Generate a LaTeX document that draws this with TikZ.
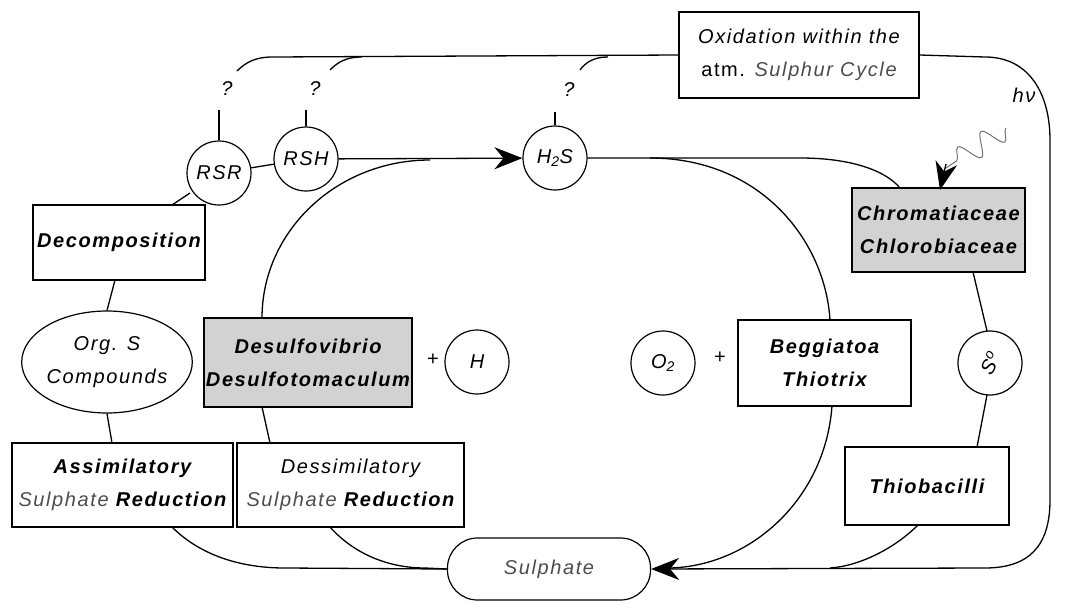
\documentclass[tikz,border=0pt]{standalone}
\usepackage{fontspec}
\setmainfont{Liberation Sans}[LetterSpace=8]
\usetikzlibrary{arrows.meta,decorations.pathmorphing,shapes.geometric}
\begin{document}
\begin{tikzpicture}[x=1pt,y=-1pt,
  every node/.style={font=\fontsize{20}{33}\selectfont\itshape},
  box/.style={draw, line width=1.5pt, inner sep=0pt, align=center},
  shaded/.style={box, fill=gray!35},
  circ/.style={draw, circle, line width=1.2pt, minimum size=64pt, inner sep=0pt},
  conn/.style={line width=1.3pt},
  tip/.style={-{Stealth[length=28pt,width=22pt,inset=9pt]}},
  bold/.style={font=\fontsize{20}{33}\selectfont\itshape\bfseries}
]
\useasboundingbox (0,0) rectangle (1066,603);
% boxes
\node[box, minimum width=240pt, minimum height=86pt] (ox) at (799,55) {Oxidation within the\\{\upshape atm.} {\color{black!70}Sulphur Cycle}};
\node[box, bold, minimum width=172pt, minimum height=75pt] (dec) at (119,242.5) {Decomposition};
\node[draw, ellipse, line width=1.2pt, minimum width=162pt, minimum height=102pt, inner sep=0pt, align=center] (orgs) at (107,362) {Org. S\\Compounds};
\node[shaded, bold, minimum width=208pt, minimum height=89pt] (desulf) at (308,362.5) {Desulfovibrio\\Desulfotomaculum};
\node[box, minimum width=221pt, minimum height=84pt] (assim) at (122.5,485) {{\bfseries Assimilatory}\\{\color{black!70}Sulphate} {\bfseries Reduction}};
\node[box, minimum width=227pt, minimum height=84pt] (dessim) at (350.5,485) {Dessimilatory\\{\color{black!70}Sulphate} {\bfseries Reduction}};
\node[draw, line width=1.2pt, rounded corners=30pt, minimum width=203pt, minimum height=62pt, inner sep=0pt, text=black!70] (sulph) at (549,569) {Sulphate};
\node[box, bold, minimum width=173pt, minimum height=86pt] (begg) at (824.5,363) {Beggiatoa\\Thiotrix};
\node[box, bold, minimum width=164pt, minimum height=78pt] (thio) at (927,486) {Thiobacilli};
\node[shaded, bold, minimum width=173pt, minimum height=84pt] (chrom) at (938.5,230) {Chromatiaceae\\Chlorobiaceae};
% circles
\node[circ] (rsr) at (219,173) {RSR};
\node[circ] (rsh) at (306,159) {RSH};
\node[circ] (h2s) at (555,158) {H\textsubscript{2}S};
\node[circ] (h) at (477,362) {H};
\node[circ] (o2) at (663,363) {O\textsubscript{2}};
\node[circ, rotate=60] (s0) at (990,363) {S\textsuperscript{o}};
% plus signs and labels
\node[font=\fontsize{20}{24}\selectfont\upshape] (p1) at (433,360) {+};
\node[font=\fontsize{20}{24}\selectfont\upshape] (p2) at (720,358) {+};
\node (q1) at (227,89) {?};
\node (q2) at (315,89) {?};
\node (q3) at (569,90) {?};
\node (hv) at (1024,95) {hν};
% coordinates for free ends
\coordinate (t1) at (219,110);
\coordinate (t2) at (306,110);
\coordinate (t3) at (555,112);
% ticks
\draw[conn] (t1) -- (rsr.north);
\draw[conn] (t2) -- (rsh.north);
\draw[conn] (t3) -- (h2s.north);
% top atmospheric line
\draw[conn] (237,71) .. controls (246,62) and (256,57) .. (272,57) -- (ox.west);
\draw[conn] (330,70) .. controls (338,62) and (346,57) .. (362,57);
\draw[conn] (580,70) .. controls (586,62) and (594,57) .. (608,57);
\draw[conn, tip] (ox.east) -- (985,57) .. controls (1030,57) and (1050,95) .. (1050,140) -- (1050,500) .. controls (1050,545) and (1030,568) .. (985,568) -- (sulph.east);
% left part
\draw[conn] (rsr) -- (rsh);
\draw[conn, tip] (rsh) -- (h2s);
\draw[conn] (190,193) -- (172,205);
\draw[conn] (115,280) -- (orgs.north);
\draw[conn] (orgs.south) -- (112,443);
\draw[conn] (262,318) .. controls (262,231) and (337,160) .. (430,160);
\draw[conn] (262,407) -- (270,443);
\draw[conn] (330,527) .. controls (355,555) and (390,568) .. (425,568) -- (sulph.west);
\draw[conn] (172,527) .. controls (200,555) and (240,568) .. (285,568) -- (sulph.west);
% right part
\draw[conn] (h2s) -- (800,158) .. controls (850,158) and (885,170) .. (900,188);
\draw[conn] (650,158) .. controls (760,158) and (825,240) .. (830,320);
\draw[conn] (832,406) .. controls (825,500) and (750,566) .. (670,568);
\draw[conn] (973,272) -- (987,331);
\draw[conn] (987,395) -- (977,447);
\draw[conn] (918,525) .. controls (895,548) and (860,566) .. (830,568);
% light wave
\draw[line width=1pt, black!55, decorate, decoration={snake, amplitude=11pt, segment length=28pt}] (1006,128) -- (946,168);
\draw[conn, tip] (946,164) -- (940,190);
\end{tikzpicture}
\end{document}
